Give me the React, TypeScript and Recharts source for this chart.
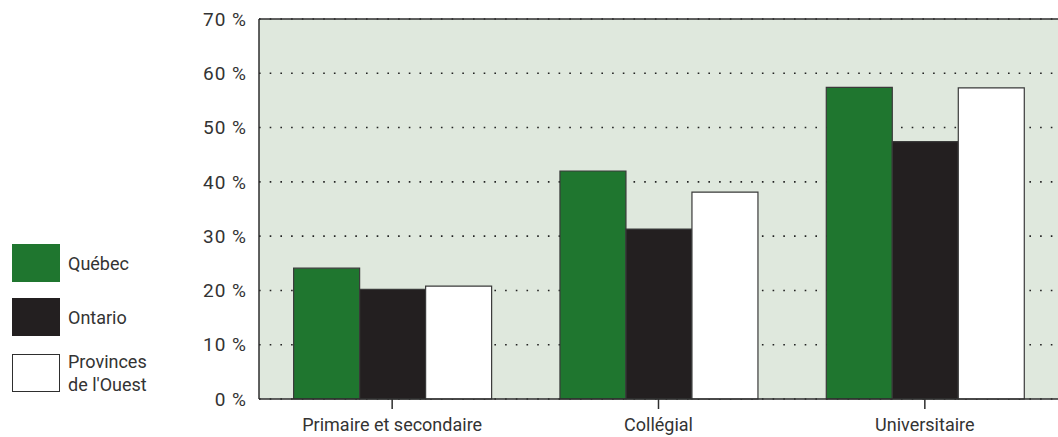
import { BarChart, Bar, XAxis, YAxis, CartesianGrid, ReferenceLine } from 'recharts';

const categories = ['Primaire et secondaire', 'Collégial', 'Universitaire'];
const quebec = [24.1, 42.0, 57.4];
const ontario = [20.2, 31.3, 47.4];
const ouest = [20.8, 38.1, 57.3];
const yTicks = [0, 10, 20, 30, 40, 50, 60, 70];

const series = [
  { key: 'quebec', label: ['Québec'], fill: '#1f762f' },
  { key: 'ontario', label: ['Ontario'], fill: '#231f20' },
  { key: 'ouest', label: ['Provinces', "de l'Ouest"], fill: '#ffffff' },
];

const data = categories.map((name, i) => ({
  name,
  quebec: quebec[i],
  ontario: ontario[i],
  ouest: ouest[i],
}));

const FONT = 'Roboto, sans-serif';
const TEXT = '#333333';
const LINE = '#2e2e2e';

function LegendBox() {
  const tops = [244, 298, 350];
  return (
    <div style={{ position: 'absolute', left: 0, top: 0 }}>
      {series.map((s, i) => (
        <div key={s.key} style={{ position: 'absolute', left: 12, top: tops[i], display: 'flex', alignItems: 'center' }}>
          <div
            style={{
              width: 48,
              height: 38,
              boxSizing: 'border-box',
              background: s.fill,
              border: s.fill === '#ffffff' ? `1.5px solid ${LINE}` : 'none',
            }}
          />
          <div style={{ marginLeft: 8, fontFamily: FONT, fontSize: 18, color: TEXT, lineHeight: '23px' }}>
            {s.label.map((l) => (
              <div key={l}>{l}</div>
            ))}
          </div>
        </div>
      ))}
    </div>
  );
}

export default function App() {
  return (
    <div style={{ position: 'absolute', left: 0, top: 0, width: 1058, height: 437, background: '#fff' }}>
      <BarChart
        width={1058}
        height={437}
        data={data}
        margin={{ top: 19, right: 0, bottom: 0, left: 0 }}
        barGap={0}
        barCategoryGap="13%"
      >
        <CartesianGrid
          vertical={false}
          fill="#dfe8dd"
          stroke="#222"
          strokeWidth={1.6}
          strokeDasharray="1.6 9.1"
        />
        <XAxis
          dataKey="name"
          height={38}
          tickSize={10}
          tickMargin={9}
          stroke={LINE}
          strokeWidth={1.5}
          tick={{ fill: TEXT, fontSize: 18, fontFamily: FONT }}
        />
        <YAxis
          width={259}
          domain={[0, 70]}
          ticks={yTicks}
          interval={0}
          tickSize={0}
          tickMargin={12}
          stroke={LINE}
          strokeWidth={1.5}
          tickFormatter={(v) => `${v} %`}
          tick={{ fill: TEXT, fontSize: 19, fontFamily: FONT, letterSpacing: 1 }}
        />
        <ReferenceLine y={70} stroke={LINE} strokeWidth={1.5} />
        {series.map((s) => (
          <Bar
            key={s.key}
            dataKey={s.key}
            fill={s.fill}
            stroke="#3a3a3a"
            strokeWidth={1.2}
            isAnimationActive={false}
          />
        ))}
      </BarChart>
      <LegendBox />
    </div>
  );
}
